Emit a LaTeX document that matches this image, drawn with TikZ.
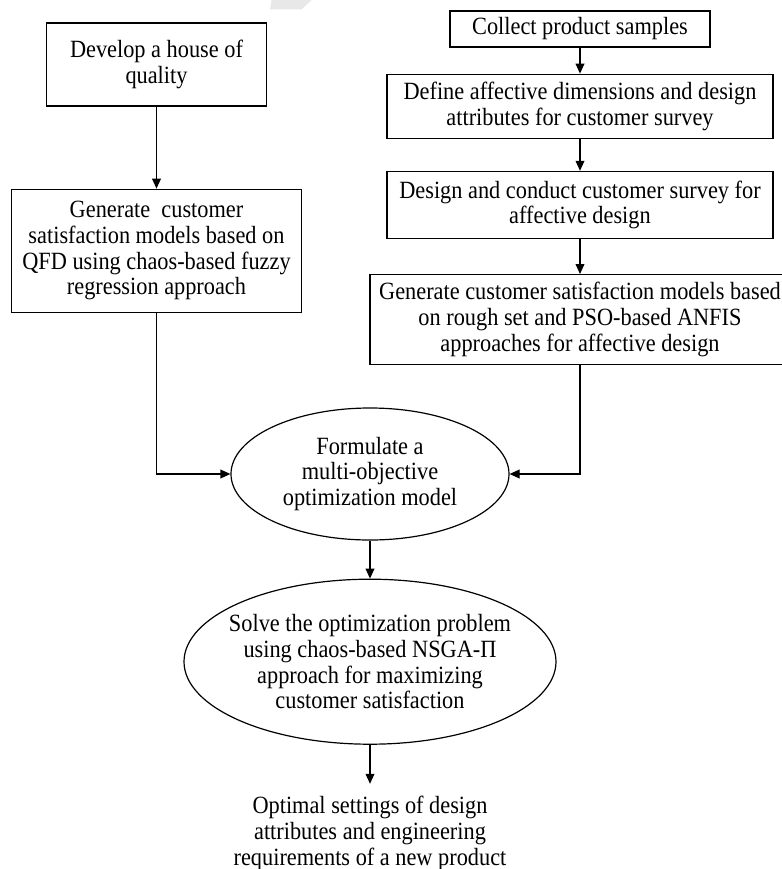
\documentclass[tikz,border=0pt]{standalone}
\usepackage{fontspec}
\setmainfont{Liberation Serif}[FakeStretch=0.9]
\usetikzlibrary{arrows.meta,positioning,shapes.geometric}

\begin{document}
\begin{tikzpicture}[>={Triangle[length=5pt,width=4.4pt]}, line width=0.6pt,
	every node/.style={font=\fontsize{12.4}{12.9}\selectfont, align=center},
	box/.style={draw, rectangle, inner sep=0pt},
	oval/.style={draw, ellipse, inner xsep=-14pt, inner ysep=0pt}]
	\useasboundingbox (0,0) rectangle (391pt,-434.5pt);
	\fill[gray!18] (135.8pt,0) -- (155.8pt,0) -- (150.8pt,-4.7pt) -- (135pt,-4.7pt) -- cycle;

	% left column
	\node[box, minimum width=110pt, minimum height=41.5pt] (house) at (78.25pt,-32.25pt) {Develop a house of\\quality};
	\node[box, minimum width=145pt, minimum height=61.5pt] (qfd) [below=41pt of house] {Generate~ customer\\satisfaction models based on\\QFD using chaos-based fuzzy\\regression approach};

	% right column
	\node[box, minimum width=130pt, minimum height=18pt] (collect) at (290pt,-14.5pt) {Collect product samples};
	\node[box, minimum width=193pt, minimum height=32pt] (define) [below=13pt of collect] {Define affective dimensions and design\\attributes for customer survey};
	\node[box, minimum width=193pt, minimum height=33.5pt] (survey) [below=16pt of define] {Design and conduct customer survey for\\affective design};
	\node[box, minimum width=210pt, minimum height=45pt] (rough) [below=17.5pt of survey] {Generate customer satisfaction models based\\on rough set and PSO-based ANFIS\\approaches for affective design};

	% optimization
	\node[oval, minimum width=139pt, minimum height=66pt] (formulate) at (185pt,-237pt) {Formulate a\\multi-objective\\optimization model};
	\node[oval, minimum width=186pt, minimum height=82.5pt] (solve) [below=19pt of formulate] {Solve the optimization problem\\using chaos-based NSGA-Π\\approach for maximizing\\customer satisfaction};
	\node[inner xsep=0pt, inner ysep=5.8pt] (optimal) [below=19.5pt of solve] {Optimal settings of design\\attributes and engineering\\requirements of a new product};

	\path[->]
	(house) edge (qfd)
	(collect) edge (define)
	(define) edge (survey)
	(survey) edge (rough)
	(formulate) edge (solve)
	(solve) edge (optimal)
	;
	\draw[->] (qfd.south) |- (formulate.west);
	\draw[->] (rough.south) |- (formulate.east);
\end{tikzpicture}
\end{document}
